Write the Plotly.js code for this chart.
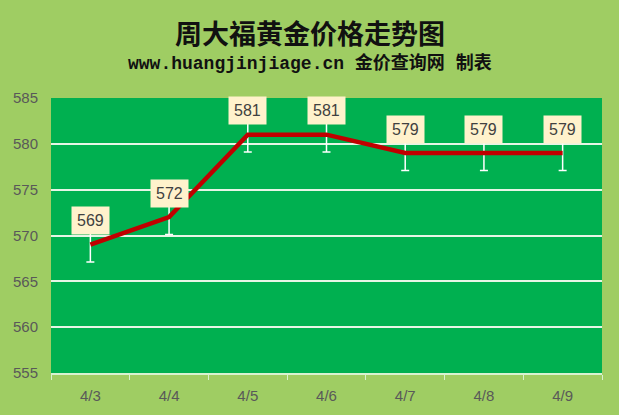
<!DOCTYPE html>
<html>
<head>
<meta charset="utf-8">
<script src="https://cdn.plot.ly/plotly-3.0.1.min.js"></script>
<style>
  html, body { margin: 0; padding: 0; background: #9FCD63; }
  #chart { width: 619px; height: 415px; }
</style>
</head>
<body>
<div id="chart"></div>
<script>
var dates = ['4/3', '4/4', '4/5', '4/6', '4/7', '4/8', '4/9'];
var prices = [569, 572, 581, 581, 579, 579, 579];
var errBars = [1.9, 1.9, 1.9, 1.9, 1.9, 1.9, 1.9];

var W = 619, H = 415;
var margin = {l: 51, r: 17, t: 98, b: 42};
// centre of the whole picture, expressed in plot-area (paper) units
var midX = (W / 2 - margin.l) / (W - margin.l - margin.r);

var priceLine = {
	type: 'scatter',
	mode: 'lines',
	x: dates,
	y: prices,
	line: {color: '#C00000', width: 4.5},
	error_y: {
		type: 'data',
		array: errBars,
		symmetric: true,
		color: '#FFFFFF',
		thickness: 1.5,
		width: 4
	},
	hoverinfo: 'skip'
};

// value labels in the pale boxes above each point
var labels = dates.map(function (d, i) {
	return {
		x: d,
		y: prices[i],
		xref: 'x',
		yref: 'y',
		text: String(prices[i]),
		showarrow: false,
		yshift: 24,
		bgcolor: '#FFF2CC',
		borderpad: 5,
		font: {family: 'Liberation Sans, Arial', size: 16, color: '#404040'}
	};
});

labels.push({
	text: '<b>周大福黄金价格走势图</b>',
	xref: 'paper', yref: 'paper',
	x: midX, y: 1,
	yshift: 66,
	xanchor: 'center',
	yanchor: 'middle',
	showarrow: false,
	font: {family: 'Noto Sans CJK SC', size: 27, color: '#111111'}
});
labels.push({
	text: '<b>www.huangjinjiage.cn 金价查询网 制表</b>',
	xref: 'paper', yref: 'paper',
	x: midX, y: 1,
	yshift: 35,
	xanchor: 'center',
	yanchor: 'middle',
	showarrow: false,
	font: {family: 'Liberation Mono, Noto Sans CJK SC', size: 18, color: '#111111'}
});

var layout = {
	width: W,
	height: H,
	margin: margin,
	paper_bgcolor: '#9FCD63',
	plot_bgcolor: '#00B050',
	showlegend: false,
	font: {family: 'Liberation Sans, Arial', color: '#595959'},
	xaxis: {
		type: 'category',
		range: [-0.5, 6.5],
		tickfont: {size: 15, color: '#595959'},
		showgrid: false,
		showline: true,
		linecolor: '#D9F2D0',
		linewidth: 2,
		ticks: 'outside',
		tickcolor: '#D9F2D0',
		ticklen: 5,
		tickson: 'boundaries',
		ticklabelstandoff: 8,
		fixedrange: true
	},
	yaxis: {
		range: [555, 585],
		dtick: 5,
		tickfont: {size: 15, color: '#595959'},
		gridcolor: '#E6F5E6',
		gridwidth: 2,
		zeroline: false,
		showline: false,
		ticks: '',
		ticklen: 0,
		ticklabelstandoff: 12,
		fixedrange: true
	},
	annotations: labels
};

Plotly.newPlot('chart', [priceLine], layout, {staticPlot: true, displayModeBar: false});
</script>
</body>
</html>
